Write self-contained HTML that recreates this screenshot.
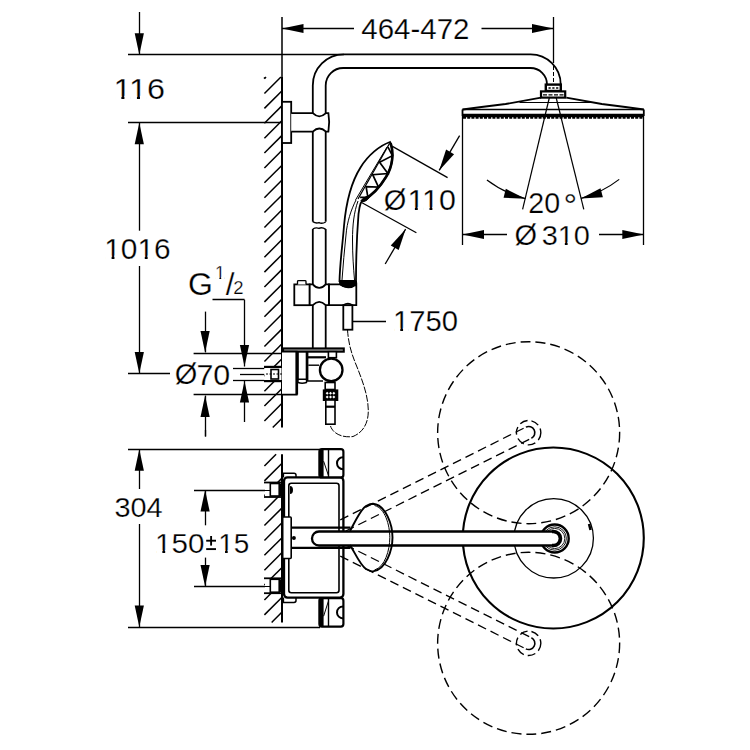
<!DOCTYPE html>
<html><head><meta charset="utf-8"><style>
html,body{margin:0;padding:0;background:#fff;width:750px;height:750px;overflow:hidden}
svg{position:absolute;left:0;top:0}
text{font-family:"Liberation Sans",sans-serif;fill:#000;stroke:#fff;stroke-width:0.25px}
</style></head><body>
<svg width="750" height="750" viewBox="0 0 750 750">
<g stroke="#000" fill="none" stroke-linecap="butt">
<line x1="282" y1="17" x2="282" y2="77" stroke-width="1.51" />
<line x1="553.5" y1="17" x2="553.5" y2="63" stroke-width="1.3" />
<line x1="553.5" y1="66" x2="553.5" y2="84" stroke-width="1.0" stroke-dasharray="4,2"/>
<line x1="282" y1="28.5" x2="354" y2="28.5" stroke-width="1.3" />
<polygon points="282,28.5 303.5,23.9 303.5,33.1" stroke="none" fill="#000"/>
<line x1="481.5" y1="28.5" x2="553.5" y2="28.5" stroke-width="1.3" />
<polygon points="553.5,28.5 532,33.1 532,23.9" stroke="none" fill="#000"/>
<line x1="128" y1="54.5" x2="344" y2="54.5" stroke-width="1.3" />
<line x1="128" y1="122.5" x2="282" y2="122.5" stroke-width="1.3" />
<line x1="139.5" y1="12" x2="139.5" y2="54.7" stroke-width="1.3" />
<polygon points="139.3,54.7 134.7,33.2 143.9,33.2" stroke="none" fill="#000"/>
<line x1="139.5" y1="122.7" x2="139.5" y2="230.7" stroke-width="1.3" />
<polygon points="139.3,122.7 143.9,144.2 134.7,144.2" stroke="none" fill="#000"/>
<line x1="139.5" y1="266" x2="139.5" y2="373.5" stroke-width="1.3" />
<polygon points="139.3,373.5 134.7,352 143.9,352" stroke="none" fill="#000"/>
<line x1="128" y1="373.5" x2="170" y2="373.5" stroke-width="1.3" />
<line x1="282" y1="77" x2="282" y2="427.5" stroke-width="2.0" />
<line x1="264.4" y1="78.61" x2="266.01" y2="77" stroke-width="1.5" />
<line x1="264.4" y1="93.5" x2="280.9" y2="77" stroke-width="1.5" />
<line x1="264.4" y1="108.39" x2="281.8" y2="90.99" stroke-width="1.5" />
<line x1="264.4" y1="123.27" x2="281.8" y2="105.87" stroke-width="1.5" />
<line x1="264.4" y1="138.16" x2="281.8" y2="120.75" stroke-width="1.5" />
<line x1="264.4" y1="153.04" x2="281.8" y2="135.64" stroke-width="1.5" />
<line x1="264.4" y1="167.93" x2="281.8" y2="150.53" stroke-width="1.5" />
<line x1="264.4" y1="182.81" x2="281.8" y2="165.41" stroke-width="1.5" />
<line x1="264.4" y1="197.69" x2="281.8" y2="180.29" stroke-width="1.5" />
<line x1="264.4" y1="212.58" x2="281.8" y2="195.18" stroke-width="1.5" />
<line x1="264.4" y1="227.47" x2="281.8" y2="210.06" stroke-width="1.5" />
<line x1="264.4" y1="242.35" x2="281.8" y2="224.95" stroke-width="1.5" />
<line x1="264.4" y1="257.24" x2="281.8" y2="239.84" stroke-width="1.5" />
<line x1="264.4" y1="272.12" x2="281.8" y2="254.72" stroke-width="1.5" />
<line x1="264.4" y1="287" x2="281.8" y2="269.61" stroke-width="1.5" />
<line x1="264.4" y1="301.89" x2="281.8" y2="284.49" stroke-width="1.5" />
<line x1="264.4" y1="316.77" x2="281.8" y2="299.38" stroke-width="1.5" />
<line x1="264.4" y1="331.66" x2="281.8" y2="314.26" stroke-width="1.5" />
<line x1="264.4" y1="346.54" x2="281.8" y2="329.14" stroke-width="1.5" />
<line x1="264.4" y1="361.43" x2="281.8" y2="344.03" stroke-width="1.5" />
<line x1="264.4" y1="376.31" x2="281.8" y2="358.92" stroke-width="1.5" />
<line x1="264.4" y1="391.2" x2="281.8" y2="373.8" stroke-width="1.5" />
<line x1="264.4" y1="406.08" x2="281.8" y2="388.69" stroke-width="1.5" />
<line x1="264.4" y1="420.97" x2="281.8" y2="403.57" stroke-width="1.5" />
<line x1="272.75" y1="427.5" x2="281.8" y2="418.46" stroke-width="1.5" />
<circle cx="264.4" cy="78" r="0.8" fill="#000" stroke="none"/>
<rect x="282" y="101.8" width="9.2" height="41.2" rx="0" stroke-width="1.8" fill="#fff" />
<path d="M291.2,113.2 H312.8 Q319.2,119.5 326,113.2 H328.4 Q330,122.4 328.4,131.6 H326 Q319.2,125.3 312.8,131.6 H291.2" stroke-width="1.8" fill="#fff" />
<path d="M312.8,113.2 V85.4 A31,31 0 0 1 343.8,54.4 H530.7 A30,30 0 0 1 560.7,84.4" stroke-width="1.8" fill="none" />
<path d="M325.7,113.2 V85.5 A17.5,17.5 0 0 1 343.2,68 H530.5 A16.5,16.5 0 0 1 547,84.5" stroke-width="1.8" fill="none" />
<line x1="312.8" y1="131.6" x2="312.8" y2="221.7" stroke-width="1.8" />
<line x1="312.8" y1="229" x2="312.8" y2="284.4" stroke-width="1.8" />
<line x1="312.8" y1="305.2" x2="312.8" y2="348.4" stroke-width="1.8" />
<line x1="325.7" y1="131.6" x2="325.7" y2="221.7" stroke-width="1.8" />
<line x1="325.7" y1="229" x2="325.7" y2="284.4" stroke-width="1.8" />
<line x1="325.7" y1="305.2" x2="325.7" y2="348.4" stroke-width="1.8" />
<path d="M312.8,221.7 Q316,223.8 319,222.6 Q322,224.2 325.7,222" stroke-width="1.4" fill="none" />
<path d="M312.8,229 Q316,227.2 319,228.4 Q322,226.8 325.7,229.4" stroke-width="1.4" fill="none" />
<rect x="545.8" y="84.6" width="15" height="6.4" rx="0" stroke-width="2.4" fill="#fff" />
<line x1="548.5" y1="88" x2="558.5" y2="88" stroke-width="1.4" stroke-dasharray="2.2,1.6"/>
<rect x="541" y="91.4" width="24.2" height="6.2" rx="0" stroke-width="2.2" fill="#fff" />
<line x1="543" y1="94.8" x2="564" y2="94.8" stroke-width="1.3" stroke-dasharray="4,1.5"/>
<path d="M462.5,109.5 Q485,106.5 505.6,104 Q525,100.5 541,97.7" stroke-width="1.8" fill="none" />
<path d="M566.3,97.7 Q582,100.5 601.8,104 Q622,106.5 643.8,109.5" stroke-width="1.8" fill="none" />
<line x1="462.5" y1="109.5" x2="643.8" y2="109.5" stroke-width="1.5" />
<line x1="519.5" y1="102.5" x2="591.6" y2="102.5" stroke-width="1.2" />
<line x1="462.5" y1="109.5" x2="462.5" y2="116" stroke-width="1.8" />
<line x1="643.8" y1="109.5" x2="643.8" y2="116" stroke-width="1.8" />
<line x1="462.5" y1="115.5" x2="643.8" y2="115.5" stroke-width="3.4" />
<line x1="463" y1="117.9" x2="643.5" y2="117.9" stroke-width="1.6" stroke-dasharray="3,1.2"/>
<line x1="462.5" y1="116" x2="462.5" y2="245" stroke-width="1.3" />
<line x1="643.5" y1="116" x2="643.5" y2="245" stroke-width="1.3" />
<line x1="462.5" y1="234.5" x2="507" y2="234.5" stroke-width="1.3" />
<polygon points="462.5,234.5 484,229.9 484,239.1" stroke="none" fill="#000"/>
<line x1="599" y1="234.5" x2="643.8" y2="234.5" stroke-width="1.3" />
<polygon points="643.8,234.5 622.3,239.1 622.3,229.9" stroke="none" fill="#000"/>
<line x1="549.5" y1="97" x2="522.6" y2="209.4" stroke-width="1.2" />
<line x1="556" y1="97" x2="583.8" y2="209.4" stroke-width="1.2" />
<path d="M486.94,179.98 A108.8,108.8 0 0 0 525.51,198.65" stroke-width="1.2" fill="none" />
<polygon points="525.51,198.65 503.55,197.73 505.84,188.82" stroke="none" fill="#000"/>
<path d="M619.21,179.4 A108.8,108.8 0 0 1 580.91,198.38" stroke-width="1.2" fill="none" />
<polygon points="580.91,198.38 600.49,188.36 602.87,197.25" stroke="none" fill="#000"/>
<path d="M390,142 C380,145.5 368,155 360.5,167.5 C352,181 346,203 344,226 C342.5,245 340,262 339.5,281 H356 C356,262 356.5,240 358.5,214 C359.5,205 361,200 364,199.5 C371,196 380,187 386,177 C393,166 394,152 390,142 Z" stroke-width="1.8" fill="#fff" />
<path d="M389.5,143.5 L358,199" stroke-width="1.3" fill="none" />
<path d="M387,147 L355.5,200" stroke-width="1.0" fill="none" />
<path d="M390.5,143 C394,152 393,166 386,177 C380,187 371,196 363,200.5" stroke-width="2.6" fill="none" />
<path d="M388.0,147.2 L392.4,155.7 L379.6,162.3 L387.9,173.6 L372.7,174.7 L378.5,187.2 L366.1,186.6 L367.9,197.3 L360.1,197.4" stroke-width="1.7" fill="none" />
<path d="M361,200.5 C364,197 368,195.5 370,196 C369,199 366,201.5 362,202 Z" fill="#000" stroke="#000" stroke-width="1"/>
<path d="M356,200 C351,210 347,222 346,235 C344.5,250 343,265 342,280" stroke-width="1.0" fill="none" />
<path d="M358,201 C354,212 352.5,225 352.5,240 C352.5,255 353.5,268 354.5,280" stroke-width="1.0" fill="none" />
<path d="M339.5,281 H356 C356,285 351,288 347.8,288 C344,288 339.5,285 339.5,281 Z" stroke-width="1.0" fill="#000" />
<line x1="392.4" y1="146.4" x2="447.6" y2="177.6" stroke-width="1.3" />
<line x1="362" y1="202.8" x2="416.4" y2="232.8" stroke-width="1.3" />
<line x1="459.6" y1="135.6" x2="439.2" y2="170.4" stroke-width="1.3" />
<polygon points="439.2,170.4 446.1,149.53 454.04,154.18" stroke="none" fill="#000"/>
<line x1="385.2" y1="264" x2="405.6" y2="229.2" stroke-width="1.3" />
<polygon points="405.6,229.2 398.7,250.07 390.76,245.42" stroke="none" fill="#000"/>
<rect x="294.3" y="284.4" width="15.4" height="20.8" rx="0" stroke-width="1.8" fill="#fff" />
<path d="M328.9,284.4 H339.8 Q348,290.5 356.3,284.4 V305.2 H352.4 Q348,302 343.3,305.2 H328.9 Z" stroke-width="1.8" fill="#fff" />
<path d="M309.7,284.4 H312.8 Q319.2,291.5 325.7,284.4 H328.9 V305.2 H325.7 Q319.2,298.5 312.8,305.2 H309.7 Z" stroke-width="1.8" fill="#fff" />
<path d="M297.5,284.4 V281.5 Q297.5,280.7 298.5,280.7 H305 Q306,280.7 306,281.5 V284.4" stroke-width="1.3" fill="#fff" />
<path d="M339.8,281.2 H356.5 V284.4 Q348,290.5 339.8,284.4 Z" stroke-width="1.0" fill="#000" />
<rect x="343.3" y="305.2" width="9.1" height="24.5" rx="0" stroke-width="1.8" fill="#fff" />
<line x1="352.4" y1="321.5" x2="386" y2="321.5" stroke-width="1.3" />
<line x1="212.5" y1="299.5" x2="244.5" y2="299.5" stroke-width="1.3" />
<line x1="244.5" y1="299.7" x2="244.5" y2="366.5" stroke-width="1.3" />
<polygon points="244.5,366.5 239.9,345 249.1,345" stroke="none" fill="#000"/>
<line x1="244.5" y1="381" x2="244.5" y2="422" stroke-width="1.3" />
<polygon points="244.5,381 249.1,402.5 239.9,402.5" stroke="none" fill="#000"/>
<line x1="233" y1="368.5" x2="264.5" y2="368.5" stroke-width="1.3" />
<line x1="240" y1="374.5" x2="264.5" y2="374.5" stroke-width="1.3" />
<line x1="233" y1="380.5" x2="264.5" y2="380.5" stroke-width="1.3" />
<rect x="264.5" y="367" width="17" height="14" rx="0" stroke-width="0" fill="#fff" stroke="none"/>
<line x1="264" y1="366.9" x2="282" y2="366.9" stroke-width="2.2" />
<line x1="264" y1="381.1" x2="282" y2="381.1" stroke-width="2.2" />
<rect x="271" y="369.5" width="7.5" height="9.5" rx="0" stroke-width="1.6" fill="none" />
<line x1="266" y1="374" x2="284" y2="374" stroke-width="1.0" stroke-dasharray="2,1.5"/>
<line x1="205.5" y1="311.6" x2="205.5" y2="352.4" stroke-width="1.3" />
<polygon points="205.1,352.4 200.5,330.9 209.7,330.9" stroke="none" fill="#000"/>
<line x1="205.5" y1="395.6" x2="205.5" y2="436.5" stroke-width="1.3" />
<polygon points="205.1,395.6 209.7,417.1 200.5,417.1" stroke="none" fill="#000"/>
<line x1="193.6" y1="353.5" x2="282" y2="353.5" stroke-width="1.3" />
<line x1="193.6" y1="394.5" x2="282" y2="394.5" stroke-width="1.3" />
<rect x="283.1" y="348.4" width="60.7" height="3.3" rx="0" stroke-width="2.0" fill="#999" />
<path d="M282,351.7 H296.7 V394.6 H282" stroke-width="1.8" fill="#fff" />
<line x1="296.8" y1="351.7" x2="296.8" y2="394.6" stroke-width="2.6" />
<path d="M298,351.7 V379.2 H306.5 V351.7" stroke-width="1.6" fill="none" />
<path d="M298,379.2 V382.5 Q302,384 306.5,382.5 V379.2" stroke-width="1.4" fill="none" />
<path d="M307.6,351.7 V381 H323" stroke-width="1.6" fill="none" />
<line x1="308" y1="357.3" x2="326" y2="357.3" stroke-width="2.2" />
<path d="M308.3,365.2 H319" stroke-width="1.4" fill="none" />
<rect x="328.4" y="351.7" width="8" height="6" rx="0" stroke-width="1.6" fill="#fff" />
<circle cx="331.2" cy="369.9" r="11.3" stroke-width="2.3" fill="#fff"/>
<rect x="325.2" y="382.5" width="9.8" height="7" rx="0" stroke-width="1.6" fill="#fff" />
<rect x="323.8" y="390.4" width="13.5" height="9.6" rx="0" stroke-width="2.0" fill="#000" />
<polygon points="327.2,391.8 328.7,393.3 327.2,394.8 325.7,393.3" fill="#fff" stroke="none"/>
<polygon points="327.2,395.6 328.7,397.1 327.2,398.6 325.7,397.1" fill="#fff" stroke="none"/>
<polygon points="330.5,391.8 332.0,393.3 330.5,394.8 329.0,393.3" fill="#fff" stroke="none"/>
<polygon points="330.5,395.6 332.0,397.1 330.5,398.6 329.0,397.1" fill="#fff" stroke="none"/>
<polygon points="333.8,391.8 335.3,393.3 333.8,394.8 332.3,393.3" fill="#fff" stroke="none"/>
<polygon points="333.8,395.6 335.3,397.1 333.8,398.6 332.3,397.1" fill="#fff" stroke="none"/>
<rect x="325.8" y="400" width="9.2" height="24.2" rx="0" stroke-width="1.6" fill="#fff" />
<line x1="325.8" y1="406.7" x2="335" y2="406.7" stroke-width="2.2" />
<path d="M347.5,329.7 C348.5,345 352,355 357,367 C363,382 368,396 368.3,410 C368.5,422 364,432 353,436.5 C343,438 333,434 330.5,426" stroke-width="1.0" fill="none" stroke-dasharray="7,1.5"/>
<line x1="211.1" y1="536" x2="211.1" y2="545.6" stroke-width="1.9" />
<line x1="206.2" y1="540.7" x2="216" y2="540.7" stroke-width="1.9" />
<line x1="206.2" y1="549.1" x2="216" y2="549.1" stroke-width="1.9" />
<line x1="205.5" y1="430" x2="205.5" y2="436.5" stroke-width="1.3" />
<line x1="128" y1="449.5" x2="320" y2="449.5" stroke-width="1.3" />
<line x1="128" y1="627.5" x2="320" y2="627.5" stroke-width="1.3" />
<line x1="139.5" y1="449.2" x2="139.5" y2="489" stroke-width="1.3" />
<polygon points="139.3,449.2 143.9,470.7 134.7,470.7" stroke="none" fill="#000"/>
<line x1="139.5" y1="524" x2="139.5" y2="627" stroke-width="1.3" />
<polygon points="139.3,627 134.7,605.5 143.9,605.5" stroke="none" fill="#000"/>
<line x1="194" y1="490.5" x2="270" y2="490.5" stroke-width="1.3" />
<line x1="194" y1="586.5" x2="270" y2="586.5" stroke-width="1.3" />
<line x1="205.5" y1="490" x2="205.5" y2="525.3" stroke-width="1.3" />
<polygon points="205.1,490 209.7,511.5 200.5,511.5" stroke="none" fill="#000"/>
<line x1="205.5" y1="557.6" x2="205.5" y2="586.4" stroke-width="1.3" />
<polygon points="205.1,586.4 200.5,564.9 209.7,564.9" stroke="none" fill="#000"/>
<line x1="282" y1="454.3" x2="282" y2="622.5" stroke-width="2.0" />
<line x1="264.4" y1="466" x2="276.1" y2="454.3" stroke-width="1.5" />
<line x1="264.4" y1="480.88" x2="281.8" y2="463.49" stroke-width="1.5" />
<line x1="264.4" y1="495.77" x2="281.8" y2="478.37" stroke-width="1.5" />
<line x1="264.4" y1="510.65" x2="281.8" y2="493.25" stroke-width="1.5" />
<line x1="264.4" y1="525.54" x2="281.8" y2="508.14" stroke-width="1.5" />
<line x1="264.4" y1="540.42" x2="281.8" y2="523.02" stroke-width="1.5" />
<line x1="264.4" y1="555.31" x2="281.8" y2="537.91" stroke-width="1.5" />
<line x1="264.4" y1="570.19" x2="281.8" y2="552.79" stroke-width="1.5" />
<line x1="264.4" y1="585.08" x2="281.8" y2="567.68" stroke-width="1.5" />
<line x1="264.4" y1="599.97" x2="281.8" y2="582.57" stroke-width="1.5" />
<line x1="264.4" y1="614.85" x2="281.8" y2="597.45" stroke-width="1.5" />
<line x1="271.63" y1="622.5" x2="281.8" y2="612.34" stroke-width="1.5" />
<rect x="265" y="482.5" width="16" height="14.5" rx="0" stroke-width="0" fill="#fff" stroke="none"/>
<line x1="264" y1="482.5" x2="282" y2="482.5" stroke-width="1.8" />
<line x1="264" y1="497" x2="282" y2="497" stroke-width="1.8" />
<rect x="270.3" y="483.5" width="9" height="12.5" rx="0" stroke-width="1.6" fill="none" />
<line x1="255" y1="490.5" x2="270" y2="490.5" stroke-width="1.0" />
<line x1="280" y1="483.5" x2="280" y2="496" stroke-width="2.4" />
<rect x="265" y="578.3" width="16" height="14.9" rx="0" stroke-width="0" fill="#fff" stroke="none"/>
<line x1="264" y1="578.3" x2="282" y2="578.3" stroke-width="1.8" />
<line x1="264" y1="593.2" x2="282" y2="593.2" stroke-width="1.8" />
<rect x="270.3" y="579.3" width="9" height="12.9" rx="0" stroke-width="1.6" fill="none" />
<line x1="255" y1="586.5" x2="270" y2="586.5" stroke-width="1.0" />
<line x1="280" y1="579.3" x2="280" y2="592.2" stroke-width="2.4" />
<rect x="284" y="477.4" width="59.4" height="120.2" rx="3.5" stroke-width="2.3" fill="#fff" />
<rect x="288.8" y="483.2" width="50.2" height="109.6" rx="2.5" stroke-width="1.6" fill="none" />
<path d="M283.4,477.4 V473.2 H294 Q296,473.2 296,475 V477.4" stroke-width="1.5" fill="none" />
<path d="M283.4,597.6 V602.4 H294 Q296,602.4 296,600.5 V597.6" stroke-width="1.5" fill="none" />
<path d="M290,486 Q293,486 293,490 Q293,494 290,494 Z" fill="#000" stroke="none"/>
<rect x="319.4" y="449.2" width="24" height="28.2" rx="2.5" stroke-width="2.2" fill="#fff" />
<rect x="319.4" y="449.2" width="4.2" height="28.2" rx="0" stroke-width="0" fill="#000" stroke="none"/>
<line x1="328.5" y1="449.2" x2="328.5" y2="477.4" stroke-width="1.4" />
<path d="M343,457.3 A6,6 0 0 0 343,469.3" stroke-width="2.0" fill="none" />
<line x1="323.6" y1="461.2" x2="328.4" y2="475.4" stroke-width="1.0" />
<rect x="319.4" y="598.2" width="24" height="28.4" rx="2.5" stroke-width="2.2" fill="#fff" />
<rect x="319.4" y="598.2" width="4.2" height="28.4" rx="0" stroke-width="0" fill="#000" stroke="none"/>
<line x1="328.5" y1="598.2" x2="328.5" y2="626.6" stroke-width="1.4" />
<path d="M343,606.4 A6,6 0 0 0 343,618.4" stroke-width="2.0" fill="none" />
<line x1="323.6" y1="616.2" x2="328.4" y2="601.2" stroke-width="1.0" />
<rect x="282.7" y="517" width="8.5" height="41.5" rx="1" stroke-width="1.6" fill="#fff" />
<circle cx="293.9" cy="538" r="2" fill="#000" stroke="none"/>
<line x1="340.27" y1="519.93" x2="525.86" y2="427.14" stroke-width="1.3" stroke-dasharray="9,5"/>
<line x1="345.82" y1="531.02" x2="531.41" y2="438.23" stroke-width="1.3" stroke-dasharray="9,5"/>
<circle cx="528.64" cy="432.68" r="91" stroke-width="1.4" fill="none" stroke-dasharray="10,5"/>
<circle cx="528.64" cy="432.68" r="12.2" stroke-width="1.4" fill="none" stroke-dasharray="8,4"/>
<path d="M525.86,427.14 A6.2,6.2 0 0 1 531.41,438.23" stroke-width="1.6" fill="none"/>
<line x1="345.82" y1="544.98" x2="531.41" y2="637.77" stroke-width="1.3" stroke-dasharray="9,5"/>
<line x1="340.27" y1="556.07" x2="525.86" y2="648.86" stroke-width="1.3" stroke-dasharray="9,5"/>
<circle cx="528.64" cy="643.32" r="91" stroke-width="1.4" fill="none" stroke-dasharray="10,5"/>
<circle cx="528.64" cy="643.32" r="12.2" stroke-width="1.4" fill="none" stroke-dasharray="8,4"/>
<path d="M531.41,637.77 A6.2,6.2 0 0 1 525.86,648.86" stroke-width="1.6" fill="none"/>
<circle cx="553.3" cy="538" r="90.5" stroke-width="2.1" fill="none"/>
<circle cx="553.7" cy="538.3" r="39.7" stroke-width="1.3" fill="none"/>
<path d="M589,524 L590.5,530" stroke-width="2.5"/>
<line x1="291.2" y1="527.6" x2="350.5" y2="527.6" stroke-width="2.2" />
<line x1="291.2" y1="547.9" x2="350.5" y2="547.9" stroke-width="2.2" />
<circle cx="554.7" cy="538.5" r="14" stroke-width="2.4" fill="#fff"/>
<circle cx="554.7" cy="538.5" r="11.7" stroke-width="0.9" fill="none"/>
<circle cx="554.7" cy="538.5" r="10.1" stroke-width="0.9" fill="none"/>
<path d="M553,531.5 H319 A6.7,6.7 0 0 0 319,545.5 H553 A7,7 0 0 0 553,531.5 Z" stroke-width="2.3" fill="#fff"/>
<path d="M552,531.5 H553.5 A7,7 0 0 1 553.5,545.5 H552" stroke-width="3.6" fill="none"/>
<path d="M350,531 C354,524 360,510 366,506 C369,504.5 371,503.8 373,503.8 C386,505 392.5,525 392.5,537.6 C392.5,550 386,570 373,571.4 C371,571.4 369,570.5 366,569 C360,565 354,551 350,545" stroke-width="1.9" fill="none" />
<path d="M374.5,505.5 C385,508 389.8,525 389.8,537.6 C389.8,550 385,567 374.5,570" stroke-width="1.0" fill="none" />
<text x="361.32" y="39.2" font-size="29.5" textLength="108.2" lengthAdjust="spacingAndGlyphs">464-472</text>
<text x="113.41" y="99.0" font-size="29.5" textLength="51.57" lengthAdjust="spacingAndGlyphs">116</text>
<text x="104.28" y="258.7" font-size="29.5" textLength="66.38" lengthAdjust="spacingAndGlyphs">1016</text>
<text x="383.85" y="210.07" font-size="29">&#216;</text>
<text x="407.43" y="210.1" font-size="29.5" textLength="48.38" lengthAdjust="spacingAndGlyphs">110</text>
<text x="528.23" y="213.0" font-size="29.5" textLength="31.85" lengthAdjust="spacingAndGlyphs">20</text>
<text x="563.54" y="217.01" font-size="34">&#176;</text>
<text x="514.55" y="245.47" font-size="29">&#216;</text>
<text x="541.68" y="245.0" font-size="28" textLength="48.25" lengthAdjust="spacingAndGlyphs">310</text>
<text x="393.11" y="331.0" font-size="29.5" textLength="65.02" lengthAdjust="spacingAndGlyphs">1750</text>
<text x="174.65" y="384.07" font-size="29">&#216;</text>
<text x="196.4" y="384.6" font-size="29.5" textLength="33.83" lengthAdjust="spacingAndGlyphs">70</text>
<text x="114.48" y="517.4" font-size="28.5" textLength="48.12" lengthAdjust="spacingAndGlyphs">304</text>
<text x="155.11" y="553.2" font-size="28" textLength="49.38" lengthAdjust="spacingAndGlyphs">150</text>
<text x="218.22" y="553.2" font-size="28" textLength="31.04" lengthAdjust="spacingAndGlyphs">15</text>
<text x="187.94" y="294.7" font-size="32">G</text>
<text x="215.02" y="279.2" font-size="18">1</text>
<text x="225.68" y="294.7" font-size="31.5">/</text>
<text x="233.31" y="293.6" font-size="18.5">2</text>
<rect x="115.03" y="95.78" width="6.33" height="4.42" fill="#fff" stroke="none"/>
<rect x="124.41" y="95.78" width="6.17" height="4.42" fill="#fff" stroke="none"/>
<rect x="130.6" y="95.78" width="6.33" height="4.42" fill="#fff" stroke="none"/>
<rect x="139.98" y="95.78" width="6.17" height="4.42" fill="#fff" stroke="none"/>
<rect x="105.77" y="255.48" width="5.82" height="4.42" fill="#fff" stroke="none"/>
<rect x="114.44" y="255.48" width="5.67" height="4.42" fill="#fff" stroke="none"/>
<rect x="138.96" y="255.48" width="5.82" height="4.42" fill="#fff" stroke="none"/>
<rect x="147.62" y="255.48" width="5.67" height="4.42" fill="#fff" stroke="none"/>
<rect x="408.95" y="206.88" width="5.93" height="4.42" fill="#fff" stroke="none"/>
<rect x="417.76" y="206.88" width="5.77" height="4.42" fill="#fff" stroke="none"/>
<rect x="423.56" y="206.88" width="5.93" height="4.42" fill="#fff" stroke="none"/>
<rect x="432.37" y="206.88" width="5.77" height="4.42" fill="#fff" stroke="none"/>
<rect x="559.2" y="241.9" width="5.64" height="4.3" fill="#fff" stroke="none"/>
<rect x="567.61" y="241.9" width="5.5" height="4.3" fill="#fff" stroke="none"/>
<rect x="394.57" y="327.78" width="5.7" height="4.42" fill="#fff" stroke="none"/>
<rect x="403.06" y="327.78" width="5.56" height="4.42" fill="#fff" stroke="none"/>
<rect x="156.59" y="550.1" width="5.77" height="4.3" fill="#fff" stroke="none"/>
<rect x="165.18" y="550.1" width="5.62" height="4.3" fill="#fff" stroke="none"/>
<rect x="219.62" y="550.1" width="5.43" height="4.3" fill="#fff" stroke="none"/>
<rect x="227.72" y="550.1" width="5.29" height="4.3" fill="#fff" stroke="none"/>
<rect x="215.92" y="276.92" width="3.45" height="3.48" fill="#fff" stroke="none"/>
<rect x="221.2" y="276.92" width="3.36" height="3.48" fill="#fff" stroke="none"/>
</g>
</svg>
</body></html>
